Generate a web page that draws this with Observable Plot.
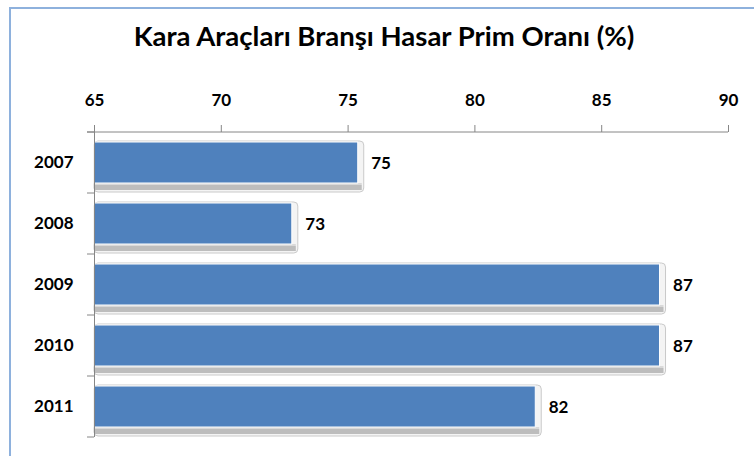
<!DOCTYPE html>
<html>
<head>
<meta charset="utf-8">
<script src="https://cdn.jsdelivr.net/npm/d3@7"></script>
<script src="https://cdn.jsdelivr.net/npm/@observablehq/plot@0.6"></script>
<style>
  html, body { margin: 0; padding: 0; background: #fff; }
  #wrap { position: relative; width: 754px; height: 456px; overflow: hidden; font-family: Lato, "Open Sans", sans-serif; }
  #frame { position: absolute; left: 9px; top: 7px; width: 800px; height: 500px; border-top: 2px solid #8eb1dd; border-left: 2px solid #8eb1dd; pointer-events: none; }
  #title { height: 60px; line-height: 48px; padding-top: 12px; text-align: center; font-weight: 700; font-size: 27.5px; color: #000; padding-left: 14px; box-sizing: border-box; white-space: nowrap; }
  svg { display: block; }
</style>
</head>
<body>
<div id="wrap">
  <div id="title">Kara Araçları Branşı Hasar Prim Oranı (%)</div>
  <div id="chart"></div>
  <div id="frame"></div>
</div>
<script>
const years = ["2007", "2008", "2009", "2010", "2011"];
const ratios = [75.4, 72.8, 87.3, 87.3, 82.4];
const xTicks = [65, 70, 75, 80, 85, 90];
const xDomain = [65, 90];

const data = years.map((year, i) => ({year, value: ratios[i]}));
const font = 'Lato, "Open Sans", sans-serif';

const chart = Plot.plot({
  width: 754,
  height: 396,
  marginTop: 71,
  marginBottom: 19,
  marginLeft: 94,
  marginRight: 26,
  style: {fontFamily: font, fontSize: "16px", fontWeight: "700", color: "#000", background: "transparent"},
  x: {domain: xDomain, ticks: xTicks, axis: null},
  y: {domain: years, paddingInner: 0.33, paddingOuter: 0.165, axis: null},
  marks: [
    // bevel / shadow
    Plot.barX(data, {x1: xDomain[0], x2: "value", y: "year", fill: "#f4f4f4", stroke: "#cacaca", strokeWidth: 1, insetTop: -1, insetBottom: -9, insetRight: -6, rx: 4}),
    Plot.barX(data, {x1: xDomain[0], x2: "value", y: "year", fill: "#bdbdbd", insetTop: 43, insetBottom: -7, insetRight: -4}),
    Plot.barX(data, {x1: xDomain[0], x2: "value", y: "year", fill: "#d9d9d9", insetTop: 41, insetBottom: -2, insetRight: -4}),
    Plot.barX(data, {x1: xDomain[0], x2: "value", y: "year", fill: "#4f81bd", stroke: "#ffffff", strokeWidth: 1}),
    Plot.text(data, {x: "value", y: "year", text: d => String(Math.round(d.value)), dx: 13, dy: 1, textAnchor: "start", fontSize: 17, fontWeight: 700, fill: "#000"}),
    Plot.axisX({anchor: "top", ticks: xTicks, tickSize: 7, tickPadding: 19, stroke: "#868686", fontSize: 17, fontWeight: 700, fill: "#000", label: null}),
    Plot.ruleX([xDomain[0]], {stroke: "#868686"}),
    Plot.axisY({anchor: "left", tickSize: 0, tickPadding: 21, fontSize: 17, fontWeight: 700, fill: "#000", label: null})
  ]
});
document.getElementById("chart").appendChild(chart);

// category boundary ticks and top axis line, placed with the plot's scales
const ys = chart.scale("y");
const xs = chart.scale("x");
const x0 = xs.apply(xDomain[0]);
const x1 = xs.apply(xDomain[1]);
const half = (ys.step - ys.bandwidth) / 2;
const bounds = years.map(y => ys.apply(y) - half).concat([ys.apply(years[years.length - 1]) + ys.bandwidth + half]);
const g = d3.select(chart).append("g").attr("stroke", "#868686");
g.selectAll("line.b").data(bounds).join("line")
  .attr("class", "b")
  .attr("x1", x0 - 7).attr("x2", x0)
  .attr("y1", d => d).attr("y2", d => d);
g.append("line")
  .attr("x1", x0 - 7).attr("x2", x1)
  .attr("y1", bounds[0]).attr("y2", bounds[0]);
</script>
</body>
</html>
